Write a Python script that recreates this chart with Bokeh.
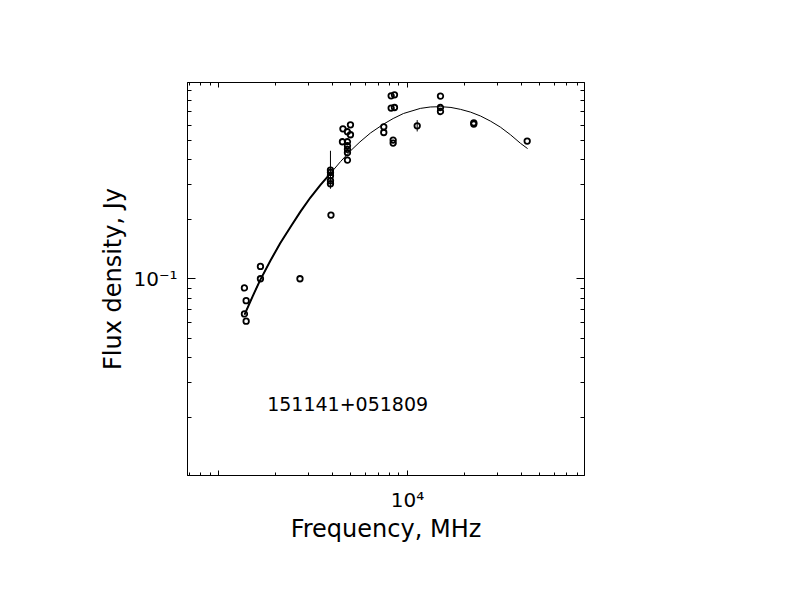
from bokeh.plotting import figure
from bokeh.models import Range1d, FixedTicker, LogAxis, Label
from bokeh.embed import file_html
from bokeh.resources import INLINE

# ---- data ----
freq_mhz = [1368, 1397, 1368, 1397, 1663, 1663, 2694, 3932,
            3908, 3908, 3908, 3908, 3908,
            4551, 4988, 4809, 4988, 4524, 4809, 4809, 4809, 4809, 4809,
            7489, 7489, 8196, 8534, 8196, 8534, 8399, 8399,
            11260, 14960, 14960, 14960, 22460, 22460, 43090]
flux_jy = [0.0901, 0.0777, 0.0666, 0.0612, 0.1158, 0.1003, 0.1003, 0.2105,
           0.3552, 0.3454, 0.3324, 0.3136, 0.3029,
           0.5742, 0.6016, 0.5546, 0.5356, 0.4937, 0.4937, 0.4713, 0.4524, 0.4344, 0.3990,
           0.5877, 0.5499, 0.8429, 0.8527, 0.7303, 0.7356, 0.5035, 0.4864,
           0.5945, 0.8399, 0.7356, 0.7023, 0.6158, 0.6065, 0.4977]

err_freq = [3908, 11260]
err_low = [0.2858, 0.5566]
err_high = [0.4446, 0.6353]

fit_freq = [1370, 1510, 1660, 1880, 2120, 2400, 2710, 3060, 3460, 3910,
            4420, 4990, 5600, 6370, 7460, 8400, 9520, 11700, 13200, 15000,
            17000, 19100, 21600, 24400, 27600, 31100, 35200, 39700, 43300]
fit_flux = [0.066, 0.0815, 0.099, 0.124, 0.152, 0.183, 0.219, 0.258, 0.299, 0.342,
            0.392, 0.444, 0.493, 0.547, 0.606, 0.647, 0.686, 0.728, 0.740, 0.743,
            0.736, 0.720, 0.697, 0.666, 0.627, 0.585, 0.535, 0.485, 0.456]
thick_count = 10

x_major = [1000, 10000]
x_minor = [700, 800, 900, 2000, 3000, 4000, 5000, 6000, 7000, 8000, 9000,
           20000, 30000, 40000, 50000, 60000, 70000, 80000]
y_major = [0.1]
y_minor = [0.02, 0.03, 0.04, 0.05, 0.06, 0.07, 0.08, 0.09,
           0.2, 0.3, 0.4, 0.5, 0.6, 0.7, 0.8, 0.9]
x_tick_labels = {1000: "", 10000: "10\u2074"}
y_tick_labels = {0.1: "10\u207b\u00b9"}
x_title = "Frequency, MHz"
y_title = "Flux density, Jy"
source_name = "151141+051809"
source_pos = (1805, 0.02337)

FONT = "DejaVu Sans"

p = figure(width=776, height=596, x_axis_type="log", y_axis_type="log",
           x_range=Range1d(683, 86700), y_range=Range1d(0.01016, 0.984),
           output_backend="svg", toolbar_location=None,
           min_border_left=187, min_border_right=192,
           min_border_top=82, min_border_bottom=121)
p.background_fill_color = "white"
p.border_fill_color = "white"
p.outline_line_color = "black"
p.outline_line_width = 1
p.xgrid.visible = False
p.ygrid.visible = False

xt = FixedTicker(ticks=x_major, minor_ticks=x_minor)
yt = FixedTicker(ticks=y_major, minor_ticks=y_minor)

def style_axis(ax, major_in, minor_in):
    ax.major_tick_in = major_in
    ax.major_tick_out = 0
    ax.minor_tick_in = minor_in
    ax.minor_tick_out = 0
    ax.axis_line_color = "black"
    ax.major_tick_line_color = "black"
    ax.minor_tick_line_color = "black"
    ax.major_label_text_font = FONT
    ax.major_label_text_color = "black"
    ax.axis_label_text_font = FONT
    ax.axis_label_text_font_style = "normal"
    ax.axis_label_text_color = "black"

xa = p.xaxis[0]
xa.ticker = xt
style_axis(xa, 5, 3)
xa.major_label_overrides = x_tick_labels
xa.major_label_text_font_size = "20px"
xa.major_label_standoff = 12
xa.axis_label = x_title
xa.axis_label_text_font_size = "24px"
xa.axis_label_standoff = 0

ya = p.yaxis[0]
ya.ticker = yt
style_axis(ya, 8, 4)
ya.major_label_overrides = y_tick_labels
ya.major_label_text_font_size = "20px"
ya.major_label_standoff = 10
ya.major_label_orientation = "horizontal"
ya.axis_label = y_title
ya.axis_label_text_font_size = "24px"
ya.axis_label_standoff = 3

top = LogAxis(ticker=FixedTicker(ticks=x_major, minor_ticks=x_minor),
              major_label_overrides={k: "" for k in x_major})
style_axis(top, 5, 3)
p.add_layout(top, "above")
right = LogAxis(ticker=FixedTicker(ticks=y_major, minor_ticks=y_minor),
                major_label_overrides={k: "" for k in y_major})
style_axis(right, 8, 4)
p.add_layout(right, "right")

# fit curve
p.line(fit_freq, fit_flux, line_color="black", line_width=1)
p.line(fit_freq[:thick_count], fit_flux[:thick_count], line_color="black", line_width=2)

# error bars
p.segment(x0=err_freq, y0=err_low, x1=err_freq, y1=err_high,
          line_color="black", line_width=1)

# measurements
p.scatter(freq_mhz, flux_jy, marker="circle", size=5.5, fill_color=None,
          line_color="black", line_width=1.8)

p.add_layout(Label(x=source_pos[0], y=source_pos[1], text=source_name,
                   text_font=FONT, text_font_size="19px",
                   text_baseline="alphabetic", text_align="left",
                   text_color="black"))

open("out.html", "w").write(file_html(p, INLINE))
